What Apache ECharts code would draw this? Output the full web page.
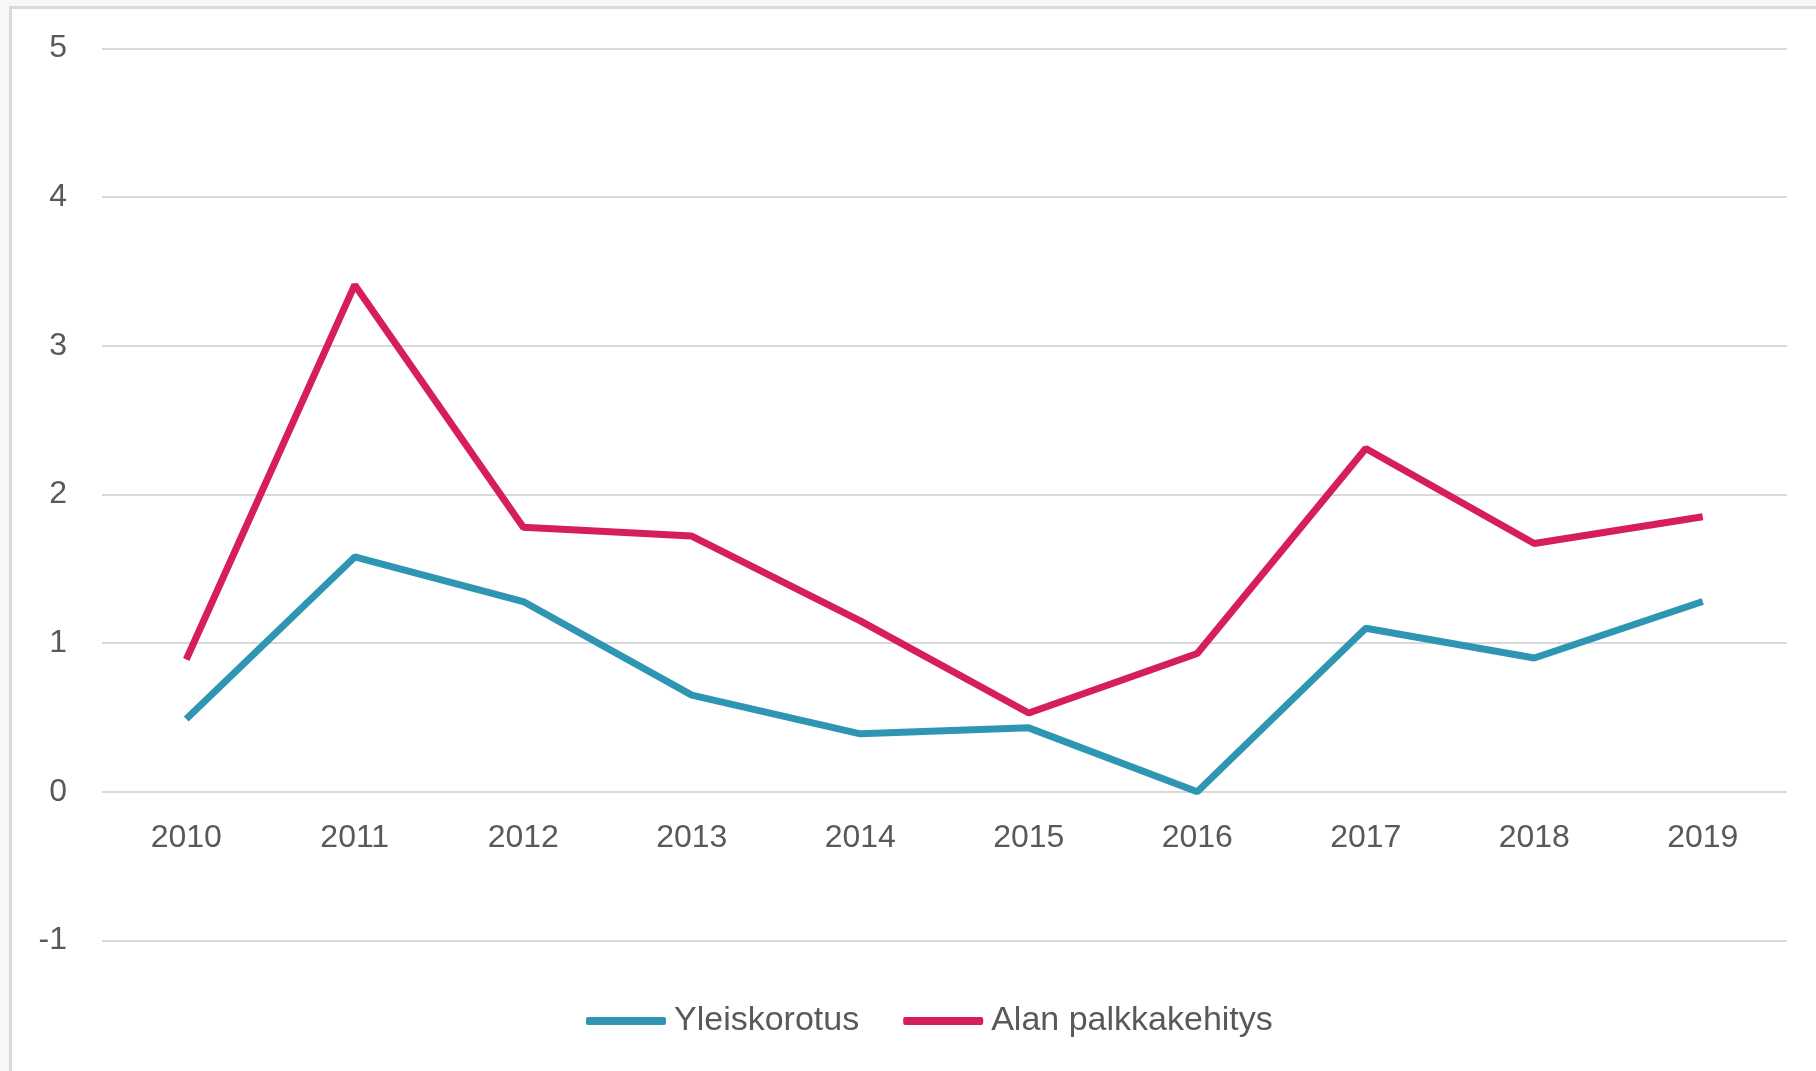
<!DOCTYPE html>
<html>
<head>
<meta charset="utf-8">
<script src="https://cdn.jsdelivr.net/npm/echarts@6/dist/echarts.min.js"></script>
<style>
  html, body { margin: 0; padding: 0; background: #f7f7f7; }
  .frame {
    position: absolute; left: 9px; top: 6px; right: 0; bottom: 0;
    background: #fff; border-top: 3px solid #d9d9d9; border-left: 3px solid #d9d9d9;
  }
  #chart { position: absolute; left: 0; top: 0; width: 1816px; height: 1071px; }
</style>
</head>
<body>
<div class="frame"></div>
<div id="chart"></div>
<script>
// palkkakehitys 2010-2019 - viivakaavio

const years = ['2010', '2011', '2012', '2013', '2014', '2015', '2016', '2017', '2018', '2019'];
const yleiskorotus = [0.49, 1.58, 1.28, 0.65, 0.39, 0.43, 0.0, 1.10, 0.90, 1.28];
const alanPalkkakehitys = [0.89, 3.41, 1.78, 1.72, 1.15, 0.53, 0.93, 2.31, 1.67, 1.85];

const textColor = '#595959';
const fontFamily = '"Liberation Sans", Arial, sans-serif';

const myChart = echarts.init(document.getElementById('chart'));

const gridTop = 48.6;
const gridBottom = 130.6;
const unitPx = (1071 - gridTop - gridBottom) / 6;

const option = {
  animation: false,
  textStyle: { fontFamily: fontFamily },
  grid: {
    left: 102,
    right: 29,
    top: gridTop,
    bottom: gridBottom,
    containLabel: false
  },
  legend: {
    left: 581,
    top: 999,
    icon: 'roundRect',
    itemWidth: 80,
    itemHeight: 8,
    itemGap: 44,
    textStyle: { color: textColor, fontSize: 34, fontFamily: fontFamily, padding: [0, 0, 0, 3] },
    data: ['Yleiskorotus', 'Alan palkkakehitys']
  },
  xAxis: {
    type: 'category',
    data: years,
    boundaryGap: true,
    offset: -unitPx, // nimiöt nollaviivan alle
    axisLine: { show: false, onZero: false },
    axisTick: { show: false },
    axisLabel: { color: textColor, fontSize: 32, margin: 30 }
  },
  yAxis: {
    type: 'value',
    min: -1,
    max: 5,
    interval: 1,
    axisLine: { show: false },
    axisTick: { show: false },
    axisLabel: { color: textColor, fontSize: 32, margin: 35 },
    splitLine: { lineStyle: { color: '#d9d9d9', width: 2 } }
  },
  series: [
    {
      name: 'Yleiskorotus',
      type: 'line',
      symbol: 'none',
      data: yleiskorotus,
      color: '#2e96b3',
      lineStyle: { width: 7, color: '#2e96b3' }
    },
    {
      name: 'Alan palkkakehitys',
      type: 'line',
      symbol: 'none',
      data: alanPalkkakehitys,
      color: '#d61e5a',
      lineStyle: { width: 7, color: '#d61e5a' }
    }
  ]
};

myChart.setOption(option);
</script>
</body>
</html>
